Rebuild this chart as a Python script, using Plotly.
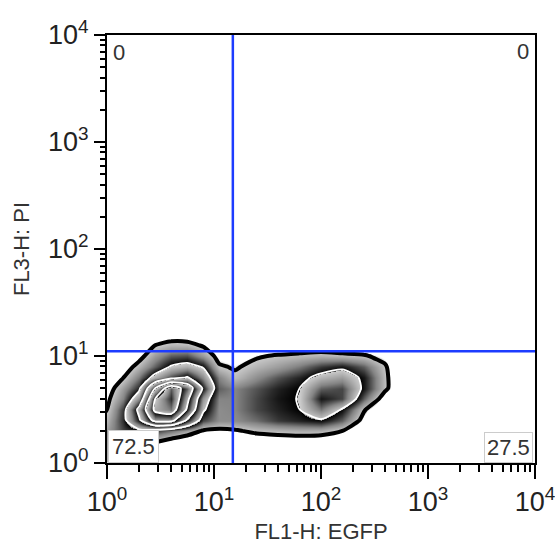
import numpy as np
import plotly.graph_objects as go

# ---------------- data ----------------
# grid positions, in decades (log10 of fluorescence)
FL1_DECADES = [-0.2, 0.0, 0.15, 0.3, 0.45, 0.6, 0.75, 0.9, 1.05, 1.2, 1.4, 1.6, 1.8, 2.0, 2.2, 2.4, 2.6, 2.8, 3.0]
FL3_DECADES = [-0.2, 0.0, 0.1, 0.2, 0.3, 0.4, 0.5, 0.6, 0.7, 0.8, 0.9, 1.0, 1.1, 1.2]

# estimated event-density level on the grid (rows = FL3, cols = FL1)
DENSITY = [
    [0.1, 0.5, 0.4, 0.2, 0.1, 0, 0, 0, 0, 0, 0, 0, 0, 0, 0, 0, 0, 0, 0],
    [0.3, 1.15, 1.05, 0.6, 0.3, 0.2, 0.1, 0.05, 0.05, 0.1, 0.15, 0.2, 0.2, 0.2, 0.1, 0, 0, 0, 0],
    [0.4, 1.2, 1.2, 0.85, 0.6, 0.4, 0.3, 0.2, 0.2, 0.3, 0.4, 0.45, 0.5, 0.45, 0.3, 0.1, 0, 0, 0],
    [0.5, 1.25, 1.45, 1.3, 1.05, 0.8, 0.6, 0.5, 0.5, 0.6, 0.7, 0.75, 0.75, 0.7, 0.5, 0.2, 0, 0, 0],
    [0.6, 1.3, 1.7, 1.85, 1.75, 1.55, 1.3, 0.95, 0.9, 0.95, 1.1, 1.15, 1.2, 1.2, 1.0, 0.5, 0.1, 0, 0],
    [0.7, 1.15, 1.8, 2.9, 4.3, 4.3, 2.9, 1.7, 1.4, 1.4, 1.55, 1.75, 1.85, 1.95, 1.6, 0.85, 0.3, 0, 0],
    [0.5, 1.0, 1.75, 3.2, 5.2, 5.5, 3.9, 2.1, 1.4, 1.45, 1.7, 1.85, 2.0, 2.5, 1.95, 1.05, 0.5, 0.15, 0],
    [0.3, 0.9, 1.45, 2.4, 5.0, 5.8, 4.2, 2.35, 1.45, 1.45, 1.7, 1.9, 2.02, 2.9, 2.7, 1.6, 0.75, 0.25, 0],
    [0.2, 0.75, 1.3, 1.85, 4.0, 5.6, 4.6, 2.9, 1.6, 1.45, 1.65, 1.85, 2.0, 2.6, 2.7, 1.9, 1.1, 0.4, 0],
    [0.1, 0.6, 0.98, 1.5, 2.2, 2.7, 3.05, 2.4, 1.45, 1.1, 1.4, 1.65, 1.85, 2.15, 2.3, 1.9, 1.1, 0.4, 0],
    [0.05, 0.45, 0.75, 1.15, 1.6, 2.05, 2.2, 1.95, 1.05, 0.95, 1.15, 1.3, 1.5, 1.75, 1.9, 1.6, 1.05, 0.35, 0],
    [0.02, 0.25, 0.5, 0.85, 1.3, 1.6, 1.65, 1.3, 0.85, 0.75, 0.95, 1.05, 1.1, 1.15, 1.1, 1.05, 0.85, 0.2, 0],
    [0, 0.1, 0.3, 0.6, 1.0, 1.15, 1.15, 0.95, 0.6, 0.4, 0.45, 0.6, 0.7, 0.75, 0.7, 0.65, 0.4, 0.1, 0],
    [0, 0.05, 0.15, 0.35, 0.6, 0.75, 0.7, 0.5, 0.3, 0.2, 0.2, 0.3, 0.35, 0.4, 0.35, 0.3, 0.2, 0.05, 0],
]

GATE_FL1 = 15.0      # vertical quadrant gate
GATE_FL3 = 11.1      # horizontal quadrant gate
QUADRANT_PCT = {"UL": "0", "UR": "0", "LL": "72.5", "LR": "27.5"}

TICK_VALS = [1, 10, 100, 1000, 10000]
TICK_TEXT = ["10<sup>0</sup>", "10<sup>1</sup>", "10<sup>2</sup>", "10<sup>3</sup>", "10<sup>4</sup>"]
X_TITLE = "FL1-H: EGFP"
Y_TITLE = "FL3-H: PI"

# ---------------- figure ----------------
x_vals = [10 ** d for d in FL1_DECADES]
y_vals = [10 ** d for d in FL3_DECADES]
z = np.array(DENSITY, dtype=float)

ZMAX = 6
# zebra shading: each band between two contour levels fades from light gray to black
scale = [[0.0, "#ffffff"], [0.93 / ZMAX, "#ffffff"], [0.96 / ZMAX, "#cfcfcf"]]
for k in range(1, ZMAX):
    lo = k / ZMAX
    step = 1 / ZMAX
    scale.append([lo, "#cccccc"])
    scale.append([lo + 0.45 * step, "#858585"])
    scale.append([lo + 0.8 * step, "#2c2c2c"])
    scale.append([lo + step - 1e-4 if k + 1 < ZMAX else 1.0, "#000000"])

SMOOTH = 0.6
fig = go.Figure()
fig.add_trace(go.Contour(
    x=x_vals, y=y_vals, z=z,
    zauto=False, zmin=0, zmax=ZMAX,
    colorscale=scale, showscale=False,
    contours=dict(coloring="heatmap", start=2, end=5, size=1),
    line=dict(color="white", width=1.8, smoothing=SMOOTH),
    hoverinfo="skip",
))
fig.add_trace(go.Contour(
    x=x_vals, y=y_vals, z=z,
    showscale=False,
    contours=dict(coloring="none", start=1, end=1, size=1),
    line=dict(color="black", width=4, smoothing=SMOOTH),
    hoverinfo="skip",
))

blue = "#1d3cff"
fig.add_shape(type="line", xref="x", yref="paper",
              x0=GATE_FL1, x1=GATE_FL1, y0=0, y1=1,
              line=dict(color=blue, width=2.5))
fig.add_shape(type="line", xref="paper", yref="y",
              x0=0, x1=1, y0=GATE_FL3, y1=GATE_FL3,
              line=dict(color=blue, width=2.5))

lab_font = dict(family="Liberation Sans, Arial, sans-serif", size=22, color="#333333")
fig.add_annotation(xref="paper", yref="paper", x=0.008, y=0.995, xanchor="left", yanchor="top",
                   text=QUADRANT_PCT["UL"], showarrow=False, font=lab_font,
                   bgcolor="white", borderpad=2)
fig.add_annotation(xref="paper", yref="paper", x=0.995, y=1.0, xanchor="right", yanchor="top",
                   text=QUADRANT_PCT["UR"], showarrow=False, font=lab_font,
                   bgcolor="white", borderpad=3)
fig.add_annotation(xref="paper", yref="paper", x=0.002, y=0.0, xanchor="left", yanchor="bottom",
                   text=QUADRANT_PCT["LL"], showarrow=False, font=lab_font,
                   bgcolor="white", bordercolor="#cccccc", borderwidth=1, borderpad=3)
fig.add_annotation(xref="paper", yref="paper", x=0.995, y=0.0, xanchor="right", yanchor="bottom",
                   text=QUADRANT_PCT["LR"], showarrow=False, font=lab_font,
                   bgcolor="white", bordercolor="#cccccc", borderwidth=1, borderpad=2)

minor_vals = [m * 10 ** d for d in range(4) for m in range(2, 10)]
tick_font = dict(family="Liberation Sans, Arial, sans-serif", size=27, color="#222222")
title_font = dict(family="Liberation Sans, Arial, sans-serif", size=22, color="#333333")

axis_common = dict(
    type="log", range=[0, 4], automargin=False,
    tickmode="array", tickvals=TICK_VALS, ticktext=TICK_TEXT,
    ticks="outside", tickwidth=2, tickcolor="black",
    showline=True, linewidth=2, linecolor="black", mirror=True,
    showgrid=False, zeroline=False, tickfont=tick_font,
    ticklabeloverflow="allow",
    minor=dict(tickmode="array", tickvals=minor_vals, ticks="outside",
               tickwidth=2, tickcolor="black", showgrid=False),
)

fig.update_xaxes(**axis_common, ticklen=14, minor_ticklen=7,
                 title=dict(text=X_TITLE, font=title_font, standoff=8))
fig.update_yaxes(**axis_common, ticklen=11, minor_ticklen=5,
                 title=dict(text=Y_TITLE, font=title_font, standoff=12))

fig.update_layout(
    width=555, height=544,
    margin=dict(l=107, r=20, t=35, b=81),
    paper_bgcolor="white", plot_bgcolor="white",
    showlegend=False,
)

fig.write_html("out.html")
